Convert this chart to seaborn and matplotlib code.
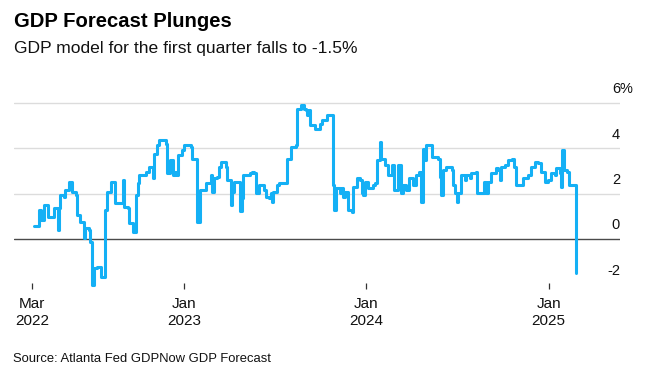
import matplotlib
matplotlib.use("Agg")
import matplotlib.pyplot as plt
import matplotlib.transforms as mtransforms
import pandas as pd
import seaborn as sns

# Atlanta Fed GDPNow estimate (step series)
dates = [
    "2022-03-05", "2022-03-15", "2022-03-20", "2022-03-26", "2022-04-02", "2022-04-15",
    "2022-04-22", "2022-04-24", "2022-04-27", "2022-05-04", "2022-05-07", "2022-05-14",
    "2022-05-21", "2022-05-29", "2022-05-31", "2022-06-06", "2022-06-13", "2022-06-16",
    "2022-06-23", "2022-06-26", "2022-06-30", "2022-07-03", "2022-07-10", "2022-07-18",
    "2022-07-26", "2022-07-30", "2022-08-07", "2022-08-15", "2022-08-30", "2022-09-01",
    "2022-09-09", "2022-09-12", "2022-09-19", "2022-09-26", "2022-09-29", "2022-10-02",
    "2022-10-16", "2022-10-22", "2022-10-29", "2022-10-31", "2022-11-08", "2022-11-11",
    "2022-11-25", "2022-11-28", "2022-12-03", "2022-12-10", "2022-12-13", "2022-12-17",
    "2022-12-20", "2022-12-28", "2022-12-31", "2023-01-14", "2023-01-17", "2023-01-26",
    "2023-02-01", "2023-02-13", "2023-02-23", "2023-02-26", "2023-03-01", "2023-03-08",
    "2023-03-11", "2023-03-15", "2023-03-25", "2023-03-28", "2023-04-04", "2023-04-07",
    "2023-04-10", "2023-04-22", "2023-04-26", "2023-04-29", "2023-05-12", "2023-05-17",
    "2023-05-20", "2023-05-24", "2023-05-30", "2023-06-09", "2023-06-13", "2023-06-19",
    "2023-06-23", "2023-06-25", "2023-06-28", "2023-07-06", "2023-07-09", "2023-07-26",
    "2023-08-02", "2023-08-12", "2023-08-14", "2023-08-22", "2023-08-28", "2023-09-01",
    "2023-09-04", "2023-09-07", "2023-09-11", "2023-09-21", "2023-10-01", "2023-10-04",
    "2023-10-14", "2023-10-26", "2023-10-29", "2023-11-02", "2023-11-10", "2023-11-13",
    "2023-11-16", "2023-11-20", "2023-11-26", "2023-12-03", "2023-12-06", "2023-12-13",
    "2023-12-20", "2023-12-23", "2023-12-26", "2023-12-30", "2024-01-05", "2024-01-15",
    "2024-01-19", "2024-01-22", "2024-01-29", "2024-01-31", "2024-02-08", "2024-02-14",
    "2024-02-21", "2024-02-26", "2024-03-04", "2024-03-11", "2024-03-14", "2024-03-21",
    "2024-03-27", "2024-04-03", "2024-04-10", "2024-04-16", "2024-04-20", "2024-04-23",
    "2024-04-26", "2024-04-30", "2024-05-11", "2024-05-24", "2024-05-28", "2024-05-30",
    "2024-06-02", "2024-06-09", "2024-06-20", "2024-06-23", "2024-06-27", "2024-06-30",
    "2024-07-03", "2024-07-10", "2024-07-17", "2024-07-20", "2024-07-27", "2024-07-30",
    "2024-08-09", "2024-08-11", "2024-08-24", "2024-08-28", "2024-09-02", "2024-09-08",
    "2024-09-18", "2024-09-21", "2024-09-25", "2024-09-28", "2024-10-05", "2024-10-11",
    "2024-10-20", "2024-10-23", "2024-10-27", "2024-10-28", "2024-11-10", "2024-11-20",
    "2024-11-27", "2024-12-04", "2024-12-10", "2024-12-17", "2024-12-24", "2024-12-30",
    "2025-01-06", "2025-01-13", "2025-01-16", "2025-01-23", "2025-01-25", "2025-01-28",
    "2025-01-31", "2025-02-07", "2025-02-10", "2025-02-24",
]
forecast = [
    0.57, 1.27, 0.84, 1.49, 0.98, 1.35,
    0.40, 1.35, 1.93, 1.86, 2.15, 2.52,
    2.08, 1.93, 1.05, 0.76, 0.03, 0.47,
    0.40, -0.12, -2.02, -1.29, -1.22, -1.66,
    1.27, 2.08, 2.52, 1.57, 2.59, 1.42,
    1.35, 0.69, 0.32, 1.93, 2.45, 2.81,
    2.96, 3.18, 2.67, 3.77, 4.13, 4.35,
    4.21, 2.89, 3.47, 2.81, 2.96, 2.81,
    3.69, 3.91, 4.13, 4.06, 3.55, 0.76,
    2.15, 2.45, 2.81, 2.08, 2.67, 2.74,
    3.18, 3.40, 3.18, 2.59, 1.49, 2.08,
    2.52, 1.25, 1.79, 2.81, 2.89, 2.96,
    2.89, 2.01, 2.37, 2.15, 1.86, 1.79,
    2.01, 1.64, 2.08, 2.37, 2.45, 3.55,
    4.06, 4.13, 5.74, 5.89, 5.74, 5.67,
    5.45, 5.67, 5.01, 4.86, 5.08, 5.23,
    5.45, 2.37, 1.27, 2.23, 2.01, 2.23,
    1.86, 2.08, 1.27, 1.20, 2.30, 2.67,
    2.59, 2.01, 1.93, 2.52, 2.23, 2.37,
    2.45, 3.47, 4.28, 3.55, 3.25, 2.81,
    3.25, 2.15, 3.25, 2.01, 2.37, 2.15,
    2.67, 2.37, 2.81, 2.96, 1.64, 3.99,
    3.47, 4.13, 3.62, 3.55, 2.74, 1.93,
    3.03, 3.18, 3.03, 2.37, 2.01, 1.64,
    2.01, 2.81, 2.59, 2.81, 2.67, 2.89,
    2.96, 2.01, 2.52, 2.01, 2.52, 2.89,
    3.11, 3.03, 2.59, 3.18, 3.25, 3.47,
    3.55, 3.18, 3.03, 2.37, 2.67, 2.81,
    3.18, 3.40, 3.33, 2.96, 2.52, 2.59,
    2.89, 2.81, 3.11, 2.89, 2.30, 3.91,
    3.03, 2.96, 2.37, -1.50,
]

tick_dates = ["2022-03-01", "2023-01-01", "2024-01-01", "2025-01-01"]
tick_labels = ["Mar\n2022", "Jan\n2023", "Jan\n2024", "Jan\n2025"]
y_ticks = [-2, 0, 2, 4, 6]
grid_levels = [2, 4, 6]

df = pd.DataFrame({"date": pd.to_datetime(dates), "gdp": forecast})

sns.set_theme(style="white")
plt.rcParams["font.family"] = ["Liberation Sans", "DejaVu Sans"]

fig = plt.figure(figsize=(6.65, 3.7), dpi=100)
ax = fig.add_axes([0.021, 0.2346, 0.9113, 0.4994])

for lvl in grid_levels:
    ax.axhline(lvl, color="#dcdcdc", lw=1.0, zorder=1)
ax.axhline(0, color="#4a4a4a", lw=1.0, zorder=2)

sns.lineplot(data=df, x="date", y="gdp", ax=ax, color="#14b0f5", linewidth=2.2,
             drawstyle="steps-post", estimator=None, sort=False, clip_on=False, zorder=3)

ax.set_xlim(pd.Timestamp("2022-01-24"), pd.Timestamp("2025-05-24"))
ax.set_ylim(-1.95, 6.2)
ax.set_xlabel("")
ax.set_ylabel("")
for s in ax.spines.values():
    s.set_visible(False)

ax.set_xticks(pd.to_datetime(tick_dates))
ax.set_xticklabels(tick_labels, fontsize=11, linespacing=1.25, color="#111111")
ax.tick_params(axis="x", bottom=True, length=4, width=0.9, color="#333333", pad=6)
ax.set_yticks([])

# y labels sit above their level, right aligned at the end of the gridlines
trans = mtransforms.blended_transform_factory(ax.transAxes, ax.transData)
offset = mtransforms.ScaledTranslation(0, 7 / 72, fig.dpi_scale_trans)
for v in y_ticks:
    ax.text(1.0, v, str(v), transform=trans + offset, ha="right", va="baseline",
            fontsize=10.5, color="#111111")
    if v == y_ticks[-1]:
        ax.text(1.0, v, "%", transform=trans + offset, ha="left", va="baseline",
                fontsize=10.5, color="#111111")

fig.text(0.021, 0.926, "GDP Forecast Plunges", fontsize=14.6, fontweight="bold",
         va="baseline", ha="left", color="#000000")
fig.text(0.021, 0.856, "GDP model for the first quarter falls to -1.5%", fontsize=12.6,
         va="baseline", ha="left", color="#111111")
fig.text(0.019, 0.022, "Source: Atlanta Fed GDPNow GDP Forecast", fontsize=9.4,
         va="baseline", ha="left", color="#111111")

fig.savefig("out.png", dpi=100, facecolor="white")
